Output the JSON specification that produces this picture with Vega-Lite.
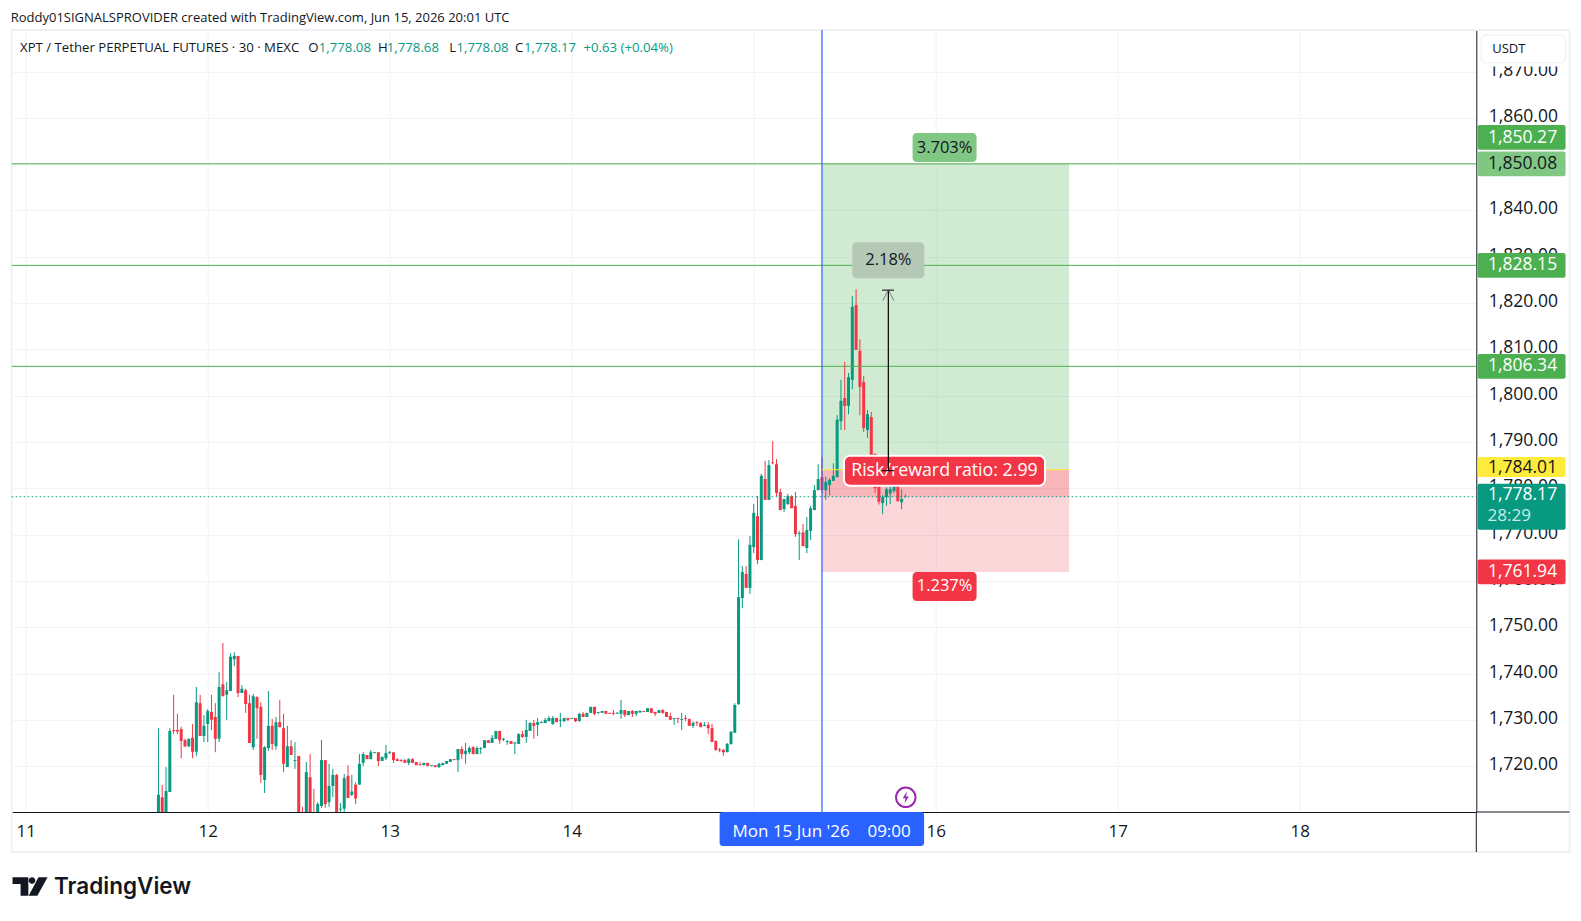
{
  "$schema": "https://vega.github.io/schema/vega-lite/v6.json",
  "description": "XPT / Tether perpetual futures, 30 minute candles with a long position drawn from 15 Jun 09:00.",
  "autosize": {"type": "none"},
  "padding": {"left": 11.7, "top": 30, "right": 104.7, "bottom": 109},
  "width": 1464.6,
  "height": 782,
  "background": "#ffffff",
  "title": {
    "text": "Roddy01SIGNALSPROVIDER created with TradingView.com, Jun 15, 2026 20:01 UTC",
    "anchor": "start",
    "frame": "group",
    "offset": 4,
    "fontSize": 13,
    "fontWeight": "normal",
    "font": "Open Sans",
    "color": "#131722",
    "dx": -1
  },
  "config": {"view": {"stroke": null}, "text": {"font": "Open Sans"}},
  "datasets": {
    "candles": [
      {"t":"2026-06-11T17:30Z","o":1708,"h":1728.2,"l":1705,"c":1713.8},
      {"t":"2026-06-11T18:00Z","o":1713.3,"h":1715.9,"l":1705,"c":1706},
      {"t":"2026-06-11T18:30Z","o":1707,"h":1719.8,"l":1705,"c":1714.6},
      {"t":"2026-06-11T19:00Z","o":1714.4,"h":1728.2,"l":1714.4,"c":1727.6},
      {"t":"2026-06-11T19:30Z","o":1727.8,"h":1735.4,"l":1726.9,"c":1727.6},
      {"t":"2026-06-11T20:00Z","o":1727.8,"h":1731.3,"l":1726.9,"c":1727.5},
      {"t":"2026-06-11T20:30Z","o":1728,"h":1728.5,"l":1721.7,"c":1725.4},
      {"t":"2026-06-11T21:00Z","o":1725.6,"h":1725.9,"l":1724.1,"c":1724.3},
      {"t":"2026-06-11T21:30Z","o":1724.3,"h":1725.9,"l":1724.1,"c":1725.9},
      {"t":"2026-06-11T22:00Z","o":1726.1,"h":1729.1,"l":1721.7,"c":1723.1},
      {"t":"2026-06-11T22:30Z","o":1723.1,"h":1737.1,"l":1722.2,"c":1733.8},
      {"t":"2026-06-11T23:00Z","o":1733.6,"h":1735.4,"l":1726.5,"c":1726.5},
      {"t":"2026-06-11T23:30Z","o":1726.5,"h":1731,"l":1725.2,"c":1728.7},
      {"t":"2026-06-12T00:00Z","o":1729.1,"h":1732.3,"l":1725.2,"c":1731.9},
      {"t":"2026-06-12T00:30Z","o":1731.7,"h":1735.4,"l":1727.8,"c":1730},
      {"t":"2026-06-12T01:00Z","o":1730.6,"h":1733.6,"l":1723,"c":1725.9},
      {"t":"2026-06-12T01:30Z","o":1725.9,"h":1740.3,"l":1725.2,"c":1737.1},
      {"t":"2026-06-12T02:00Z","o":1737.7,"h":1746.6,"l":1735.1,"c":1735.1},
      {"t":"2026-06-12T02:30Z","o":1735.4,"h":1738.2,"l":1730,"c":1736.4},
      {"t":"2026-06-12T03:00Z","o":1736.2,"h":1744.4,"l":1736.2,"c":1743.6},
      {"t":"2026-06-12T03:30Z","o":1743.1,"h":1744.6,"l":1741.6,"c":1743.8},
      {"t":"2026-06-12T04:00Z","o":1743.8,"h":1743.8,"l":1734.9,"c":1735.8},
      {"t":"2026-06-12T04:30Z","o":1735.8,"h":1737.5,"l":1735.8,"c":1736.7},
      {"t":"2026-06-12T05:00Z","o":1736.4,"h":1736.7,"l":1731.5,"c":1733.4},
      {"t":"2026-06-12T05:30Z","o":1733.6,"h":1735.4,"l":1725,"c":1725},
      {"t":"2026-06-12T06:00Z","o":1724.1,"h":1735.6,"l":1723.5,"c":1735.1},
      {"t":"2026-06-12T06:30Z","o":1734.9,"h":1735.1,"l":1725.9,"c":1732.5},
      {"t":"2026-06-12T07:00Z","o":1732.8,"h":1733.8,"l":1716.4,"c":1718.1},
      {"t":"2026-06-12T07:30Z","o":1717,"h":1724.3,"l":1714.2,"c":1724.1},
      {"t":"2026-06-12T08:00Z","o":1723.9,"h":1736.2,"l":1723.3,"c":1728.7},
      {"t":"2026-06-12T08:30Z","o":1728.7,"h":1730.2,"l":1723.5,"c":1724.8},
      {"t":"2026-06-12T09:00Z","o":1724.3,"h":1730.6,"l":1723.5,"c":1729.5},
      {"t":"2026-06-12T09:30Z","o":1729.5,"h":1734.3,"l":1728.4,"c":1728.4},
      {"t":"2026-06-12T10:00Z","o":1728.2,"h":1731.3,"l":1718.7,"c":1720.5},
      {"t":"2026-06-12T10:30Z","o":1719.8,"h":1728.7,"l":1719.8,"c":1724.3},
      {"t":"2026-06-12T11:00Z","o":1724.3,"h":1725.6,"l":1722.4,"c":1722.4},
      {"t":"2026-06-12T11:30Z","o":1721.1,"h":1725.2,"l":1719.4,"c":1721.3},
      {"t":"2026-06-12T12:00Z","o":1722.2,"h":1722.2,"l":1707,"c":1708},
      {"t":"2026-06-12T12:30Z","o":1708,"h":1711.2,"l":1705,"c":1706},
      {"t":"2026-06-12T13:00Z","o":1707,"h":1720.9,"l":1705,"c":1718.7},
      {"t":"2026-06-12T13:30Z","o":1717.6,"h":1722.6,"l":1705,"c":1706},
      {"t":"2026-06-12T14:00Z","o":1710,"h":1715.1,"l":1705,"c":1708},
      {"t":"2026-06-12T14:30Z","o":1708,"h":1712.2,"l":1706,"c":1711.8},
      {"t":"2026-06-12T15:00Z","o":1711.4,"h":1725.6,"l":1711,"c":1721.3},
      {"t":"2026-06-12T15:30Z","o":1721.3,"h":1721.3,"l":1711,"c":1711.8},
      {"t":"2026-06-12T16:00Z","o":1712.2,"h":1720.5,"l":1711.2,"c":1715.7},
      {"t":"2026-06-12T16:30Z","o":1715.7,"h":1719.4,"l":1713.3,"c":1718.1},
      {"t":"2026-06-12T17:00Z","o":1718.1,"h":1718.3,"l":1708,"c":1709},
      {"t":"2026-06-12T17:30Z","o":1710.6,"h":1712,"l":1709,"c":1710.8},
      {"t":"2026-06-12T18:00Z","o":1710.8,"h":1718.3,"l":1710,"c":1717.4},
      {"t":"2026-06-12T18:30Z","o":1717.9,"h":1720.2,"l":1713.1,"c":1713.1},
      {"t":"2026-06-12T19:00Z","o":1713.8,"h":1718.1,"l":1713.5,"c":1714.5},
      {"t":"2026-06-12T19:30Z","o":1716,"h":1716.5,"l":1711.8,"c":1713},
      {"t":"2026-06-12T20:00Z","o":1716,"h":1722.6,"l":1716,"c":1720.5},
      {"t":"2026-06-12T20:30Z","o":1720.7,"h":1723,"l":1720,"c":1722.6},
      {"t":"2026-06-12T21:00Z","o":1722.4,"h":1722.4,"l":1721.5,"c":1721.5},
      {"t":"2026-06-12T21:30Z","o":1721.5,"h":1723.5,"l":1721.5,"c":1723},
      {"t":"2026-06-12T22:00Z","o":1722.8,"h":1723,"l":1722.8,"c":1723},
      {"t":"2026-06-12T22:30Z","o":1723,"h":1723,"l":1720,"c":1721.1},
      {"t":"2026-06-12T23:00Z","o":1721.1,"h":1722,"l":1721.1,"c":1722},
      {"t":"2026-06-12T23:30Z","o":1721.7,"h":1724.6,"l":1721.3,"c":1722.8},
      {"t":"2026-06-13T00:00Z","o":1722.8,"h":1723.3,"l":1722.6,"c":1723},
      {"t":"2026-06-13T00:30Z","o":1723,"h":1723,"l":1720.7,"c":1721.3},
      {"t":"2026-06-13T01:00Z","o":1721.5,"h":1721.7,"l":1721.1,"c":1721.1},
      {"t":"2026-06-13T01:30Z","o":1721.3,"h":1721.5,"l":1720.9,"c":1721.1},
      {"t":"2026-06-13T02:00Z","o":1721.3,"h":1721.5,"l":1720.7,"c":1720.7},
      {"t":"2026-06-13T02:30Z","o":1720.7,"h":1721.7,"l":1720.2,"c":1721.5},
      {"t":"2026-06-13T03:00Z","o":1721.5,"h":1721.7,"l":1720.7,"c":1720.7},
      {"t":"2026-06-13T03:30Z","o":1720.9,"h":1720.9,"l":1720.2,"c":1720.2},
      {"t":"2026-06-13T04:00Z","o":1720.4,"h":1720.9,"l":1720.2,"c":1720.2},
      {"t":"2026-06-13T04:30Z","o":1720.2,"h":1720.7,"l":1720.2,"c":1720.7},
      {"t":"2026-06-13T05:00Z","o":1720.7,"h":1720.7,"l":1720,"c":1720},
      {"t":"2026-06-13T05:30Z","o":1720,"h":1720.2,"l":1720,"c":1720.2},
      {"t":"2026-06-13T06:00Z","o":1720.2,"h":1720.2,"l":1719.8,"c":1719.8},
      {"t":"2026-06-13T06:30Z","o":1719.8,"h":1720.7,"l":1719.6,"c":1720.5},
      {"t":"2026-06-13T07:00Z","o":1720.2,"h":1720.7,"l":1720.2,"c":1720.7},
      {"t":"2026-06-13T07:30Z","o":1720.5,"h":1721.1,"l":1720.5,"c":1721.1},
      {"t":"2026-06-13T08:00Z","o":1720.9,"h":1721.5,"l":1720.9,"c":1721.5},
      {"t":"2026-06-13T08:30Z","o":1721.5,"h":1721.5,"l":1721.3,"c":1721.3},
      {"t":"2026-06-13T09:00Z","o":1721.3,"h":1723.7,"l":1718.7,"c":1723.7},
      {"t":"2026-06-13T09:30Z","o":1723.7,"h":1724.3,"l":1721.5,"c":1722.6},
      {"t":"2026-06-13T10:00Z","o":1722.6,"h":1725,"l":1720.5,"c":1723.3},
      {"t":"2026-06-13T10:30Z","o":1723,"h":1724.3,"l":1722.6,"c":1723.9},
      {"t":"2026-06-13T11:00Z","o":1724.1,"h":1724.3,"l":1722.6,"c":1722.6},
      {"t":"2026-06-13T11:30Z","o":1722.6,"h":1724.3,"l":1722.6,"c":1723.9},
      {"t":"2026-06-13T12:00Z","o":1723.7,"h":1724.1,"l":1722.6,"c":1723.9},
      {"t":"2026-06-13T12:30Z","o":1723.9,"h":1725.6,"l":1723.9,"c":1725.6},
      {"t":"2026-06-13T13:00Z","o":1725.6,"h":1725.6,"l":1725,"c":1725},
      {"t":"2026-06-13T13:30Z","o":1725,"h":1726.7,"l":1725,"c":1726.1},
      {"t":"2026-06-13T14:00Z","o":1725.9,"h":1727.6,"l":1725.9,"c":1727.6},
      {"t":"2026-06-13T14:30Z","o":1727.6,"h":1727.6,"l":1724.8,"c":1725.6},
      {"t":"2026-06-13T15:00Z","o":1725.7,"h":1726.1,"l":1725.4,"c":1725.9},
      {"t":"2026-06-13T15:30Z","o":1725.2,"h":1725.6,"l":1724.6,"c":1725.4},
      {"t":"2026-06-13T16:00Z","o":1725.4,"h":1725.4,"l":1724.8,"c":1724.8},
      {"t":"2026-06-13T16:30Z","o":1724.9,"h":1725.2,"l":1722.6,"c":1725.1},
      {"t":"2026-06-13T17:00Z","o":1724.8,"h":1727.1,"l":1724.8,"c":1726.9},
      {"t":"2026-06-13T17:30Z","o":1726.9,"h":1727.6,"l":1726.1,"c":1726.3},
      {"t":"2026-06-13T18:00Z","o":1726.3,"h":1730,"l":1725,"c":1727.8},
      {"t":"2026-06-13T18:30Z","o":1727.6,"h":1729.5,"l":1727.6,"c":1729.3},
      {"t":"2026-06-13T19:00Z","o":1729.3,"h":1730,"l":1725.9,"c":1728.7},
      {"t":"2026-06-13T19:30Z","o":1728.9,"h":1730.4,"l":1726.5,"c":1729.5},
      {"t":"2026-06-13T20:00Z","o":1729.3,"h":1729.7,"l":1729.3,"c":1729.5},
      {"t":"2026-06-13T20:30Z","o":1729.3,"h":1730.4,"l":1729.3,"c":1730},
      {"t":"2026-06-13T21:00Z","o":1729.7,"h":1730.8,"l":1729.7,"c":1730.4},
      {"t":"2026-06-13T21:30Z","o":1729.1,"h":1730.8,"l":1728.9,"c":1730.4},
      {"t":"2026-06-13T22:00Z","o":1730.4,"h":1730.4,"l":1729.5,"c":1729.5},
      {"t":"2026-06-13T22:30Z","o":1729.8,"h":1731.5,"l":1728.4,"c":1730},
      {"t":"2026-06-13T23:00Z","o":1729.7,"h":1730.4,"l":1729.5,"c":1730.4},
      {"t":"2026-06-13T23:30Z","o":1730.4,"h":1730.4,"l":1729.7,"c":1730},
      {"t":"2026-06-14T00:00Z","o":1730.2,"h":1730.4,"l":1730.2,"c":1730.4},
      {"t":"2026-06-14T00:30Z","o":1730.4,"h":1730.4,"l":1729.5,"c":1729.7},
      {"t":"2026-06-14T01:00Z","o":1729.7,"h":1731.5,"l":1729.7,"c":1731.3},
      {"t":"2026-06-14T01:30Z","o":1731.3,"h":1731.7,"l":1730.6,"c":1730.6},
      {"t":"2026-06-14T02:00Z","o":1730.6,"h":1731.5,"l":1730.6,"c":1731.5},
      {"t":"2026-06-14T02:30Z","o":1731.5,"h":1732.8,"l":1731.5,"c":1732.8},
      {"t":"2026-06-14T03:00Z","o":1732.8,"h":1732.8,"l":1731,"c":1731.3},
      {"t":"2026-06-14T03:30Z","o":1731.5,"h":1731.7,"l":1731.3,"c":1731.7},
      {"t":"2026-06-14T04:00Z","o":1731.5,"h":1731.9,"l":1731.5,"c":1731.9},
      {"t":"2026-06-14T04:30Z","o":1731.9,"h":1731.9,"l":1731.3,"c":1731.3},
      {"t":"2026-06-14T05:00Z","o":1731.5,"h":1731.5,"l":1731.3,"c":1731.3},
      {"t":"2026-06-14T05:30Z","o":1731.5,"h":1732.1,"l":1731,"c":1731.3},
      {"t":"2026-06-14T06:00Z","o":1731.3,"h":1731.7,"l":1731.3,"c":1731.5},
      {"t":"2026-06-14T06:30Z","o":1731.3,"h":1734.3,"l":1730.2,"c":1732.1},
      {"t":"2026-06-14T07:00Z","o":1732.1,"h":1732.1,"l":1730.6,"c":1731},
      {"t":"2026-06-14T07:30Z","o":1731,"h":1731.9,"l":1731,"c":1731.9},
      {"t":"2026-06-14T08:00Z","o":1731.9,"h":1732.1,"l":1730.6,"c":1731.3},
      {"t":"2026-06-14T08:30Z","o":1731.3,"h":1731.9,"l":1730.8,"c":1731.9},
      {"t":"2026-06-14T09:00Z","o":1731.6,"h":1732.1,"l":1731.5,"c":1731.9},
      {"t":"2026-06-14T09:30Z","o":1731.9,"h":1731.9,"l":1731.7,"c":1731.7},
      {"t":"2026-06-14T10:00Z","o":1731.7,"h":1732.5,"l":1731.7,"c":1732.5},
      {"t":"2026-06-14T10:30Z","o":1732.5,"h":1732.5,"l":1731.5,"c":1731.5},
      {"t":"2026-06-14T11:00Z","o":1731.7,"h":1731.7,"l":1730.8,"c":1731.3},
      {"t":"2026-06-14T11:30Z","o":1731.5,"h":1732.1,"l":1731.5,"c":1732.1},
      {"t":"2026-06-14T12:00Z","o":1732.1,"h":1732.3,"l":1731.3,"c":1731.5},
      {"t":"2026-06-14T12:30Z","o":1731.7,"h":1731.7,"l":1730.6,"c":1730.6},
      {"t":"2026-06-14T13:00Z","o":1730.8,"h":1731.5,"l":1730,"c":1730},
      {"t":"2026-06-14T13:30Z","o":1730.2,"h":1730.4,"l":1728.9,"c":1730.4},
      {"t":"2026-06-14T14:00Z","o":1730.4,"h":1730.4,"l":1729.3,"c":1730.2},
      {"t":"2026-06-14T14:30Z","o":1730,"h":1731.5,"l":1727.8,"c":1730.2},
      {"t":"2026-06-14T15:00Z","o":1730.4,"h":1731,"l":1729.7,"c":1730.2},
      {"t":"2026-06-14T15:30Z","o":1730.2,"h":1730.2,"l":1728.7,"c":1728.7},
      {"t":"2026-06-14T16:00Z","o":1728.7,"h":1729.7,"l":1728.2,"c":1729.3},
      {"t":"2026-06-14T16:30Z","o":1729.5,"h":1729.7,"l":1728.7,"c":1729.3},
      {"t":"2026-06-14T17:00Z","o":1729.3,"h":1729.5,"l":1728.4,"c":1728.4},
      {"t":"2026-06-14T17:30Z","o":1728.7,"h":1729.5,"l":1728.6,"c":1728.9},
      {"t":"2026-06-14T18:00Z","o":1728.9,"h":1729.5,"l":1726.9,"c":1728.2},
      {"t":"2026-06-14T18:30Z","o":1728.2,"h":1729.1,"l":1725.2,"c":1725.2},
      {"t":"2026-06-14T19:00Z","o":1725.4,"h":1725.6,"l":1723.3,"c":1723.5},
      {"t":"2026-06-14T19:30Z","o":1723.6,"h":1723.9,"l":1723,"c":1723.4},
      {"t":"2026-06-14T20:00Z","o":1723.5,"h":1723.7,"l":1722.2,"c":1723},
      {"t":"2026-06-14T20:30Z","o":1723,"h":1725,"l":1723,"c":1724.8},
      {"t":"2026-06-14T21:00Z","o":1724.8,"h":1727.6,"l":1724.6,"c":1727.4},
      {"t":"2026-06-14T21:30Z","o":1727.2,"h":1733.6,"l":1727.2,"c":1733.2},
      {"t":"2026-06-14T22:00Z","o":1733.4,"h":1769,"l":1733.2,"c":1756.5},
      {"t":"2026-06-14T22:30Z","o":1756.3,"h":1763.2,"l":1754.1,"c":1761.9},
      {"t":"2026-06-14T23:00Z","o":1761.5,"h":1763.2,"l":1758.5,"c":1758.5},
      {"t":"2026-06-14T23:30Z","o":1758.5,"h":1769.7,"l":1757.2,"c":1767.8},
      {"t":"2026-06-15T00:00Z","o":1767.3,"h":1776.6,"l":1766,"c":1774.7},
      {"t":"2026-06-15T00:30Z","o":1774,"h":1778.3,"l":1763.6,"c":1764.5},
      {"t":"2026-06-15T01:00Z","o":1764.5,"h":1783.1,"l":1764.5,"c":1782.7},
      {"t":"2026-06-15T01:30Z","o":1782,"h":1785.9,"l":1777.5,"c":1777.5},
      {"t":"2026-06-15T02:00Z","o":1777.5,"h":1786.1,"l":1777.5,"c":1785},
      {"t":"2026-06-15T02:30Z","o":1785.6,"h":1790.2,"l":1785.2,"c":1785.4},
      {"t":"2026-06-15T03:00Z","o":1785.2,"h":1786.3,"l":1778.3,"c":1779},
      {"t":"2026-06-15T03:30Z","o":1779.2,"h":1779.9,"l":1775.3,"c":1775.3},
      {"t":"2026-06-15T04:00Z","o":1775.5,"h":1777.7,"l":1774.9,"c":1777.7},
      {"t":"2026-06-15T04:30Z","o":1776.6,"h":1778.8,"l":1776.4,"c":1778.3},
      {"t":"2026-06-15T05:00Z","o":1778.3,"h":1778.5,"l":1775.7,"c":1775.7},
      {"t":"2026-06-15T05:30Z","o":1776.2,"h":1779.2,"l":1769.5,"c":1770.1},
      {"t":"2026-06-15T06:00Z","o":1770.1,"h":1770.8,"l":1764.5,"c":1770.3},
      {"t":"2026-06-15T06:30Z","o":1770.5,"h":1772.3,"l":1767.5,"c":1767.5},
      {"t":"2026-06-15T07:00Z","o":1767.1,"h":1773.8,"l":1766,"c":1771},
      {"t":"2026-06-15T07:30Z","o":1770.8,"h":1776.2,"l":1768.8,"c":1775.7},
      {"t":"2026-06-15T08:00Z","o":1775.3,"h":1780.7,"l":1775.3,"c":1779.6},
      {"t":"2026-06-15T08:30Z","o":1779.6,"h":1785.2,"l":1779.6,"c":1782},
      {"t":"2026-06-15T09:00Z","o":1782.4,"h":1786.8,"l":1779,"c":1779.6},
      {"t":"2026-06-15T09:30Z","o":1779.6,"h":1782.5,"l":1777.5,"c":1781.4},
      {"t":"2026-06-15T10:00Z","o":1780.7,"h":1782.2,"l":1778.5,"c":1781.8},
      {"t":"2026-06-15T10:30Z","o":1781.6,"h":1785.4,"l":1781.6,"c":1782.7},
      {"t":"2026-06-15T11:00Z","o":1782.4,"h":1795.8,"l":1782.4,"c":1794.8},
      {"t":"2026-06-15T11:30Z","o":1794.5,"h":1803.4,"l":1792.6,"c":1798.9},
      {"t":"2026-06-15T12:00Z","o":1799.5,"h":1807.3,"l":1792.6,"c":1797.8},
      {"t":"2026-06-15T12:30Z","o":1797.8,"h":1804.9,"l":1796,"c":1804},
      {"t":"2026-06-15T13:00Z","o":1803.4,"h":1821.5,"l":1801.4,"c":1819.2},
      {"t":"2026-06-15T13:30Z","o":1819.6,"h":1823,"l":1809.9,"c":1809.9},
      {"t":"2026-06-15T14:00Z","o":1809.7,"h":1812.2,"l":1795.8,"c":1801.9},
      {"t":"2026-06-15T14:30Z","o":1803,"h":1804.2,"l":1792.2,"c":1793},
      {"t":"2026-06-15T15:00Z","o":1792.6,"h":1796.9,"l":1790.9,"c":1796},
      {"t":"2026-06-15T15:30Z","o":1795.4,"h":1796.5,"l":1786,"c":1787},
      {"t":"2026-06-15T16:00Z","o":1787.4,"h":1787.6,"l":1779,"c":1780},
      {"t":"2026-06-15T16:30Z","o":1780.3,"h":1781,"l":1776.5,"c":1777.1},
      {"t":"2026-06-15T17:00Z","o":1776.8,"h":1778.5,"l":1774.4,"c":1778.1},
      {"t":"2026-06-15T17:30Z","o":1778.1,"h":1780.2,"l":1776.2,"c":1779.8},
      {"t":"2026-06-15T18:00Z","o":1778.9,"h":1781.4,"l":1776.6,"c":1779.8},
      {"t":"2026-06-15T18:30Z","o":1779.4,"h":1781.8,"l":1779,"c":1781.4},
      {"t":"2026-06-15T19:00Z","o":1780.5,"h":1781,"l":1777.2,"c":1777.2},
      {"t":"2026-06-15T19:30Z","o":1777,"h":1779.8,"l":1775.5,"c":1777.7},
      {"t":"2026-06-15T20:00Z","o":1778.08,"h":1778.68,"l":1778.08,"c":1778.17}
    ],
    "tags": [
      {"t":"2026-06-19T05:15Z","price":1850.27,"label":"1,850.27","kind":"hit"},
      {"t":"2026-06-19T05:15Z","price":1850.08,"label":"1,850.08","kind":"faint"},
      {"t":"2026-06-19T05:15Z","price":1828.15,"label":"1,828.15","kind":"target"},
      {"t":"2026-06-19T05:15Z","price":1806.34,"label":"1,806.34","kind":"target"},
      {"t":"2026-06-19T05:15Z","price":1784.01,"label":"1,784.01","kind":"entry"},
      {"t":"2026-06-19T05:15Z","price":1778.17,"label":"1,778.17","kind":"last"},
      {"t":"2026-06-19T05:15Z","price":1761.94,"label":"1,761.94","kind":"stop"}
    ],
    "legendline": [
      {"t":"2026-06-10T23:15Z","label":"XPT / Tether PERPETUAL FUTURES · 30 · MEXC","kind":"name"},
      {"t":"2026-06-12T13:15Z","label":"O","kind":"name"},
      {"t":"2026-06-12T14:39Z","label":"1,778.08","kind":"value"},
      {"t":"2026-06-12T22:27Z","label":"H","kind":"name"},
      {"t":"2026-06-12T23:37Z","label":"1,778.68","kind":"value"},
      {"t":"2026-06-13T07:50Z","label":"L","kind":"name"},
      {"t":"2026-06-13T08:48Z","label":"1,778.08","kind":"value"},
      {"t":"2026-06-13T16:32Z","label":"C","kind":"name"},
      {"t":"2026-06-13T17:42Z","label":"1,778.17","kind":"value"},
      {"t":"2026-06-14T01:33Z","label":"+0.63 (+0.04%)","kind":"value"}
    ],
    "badges": [
      {"t":"2026-06-16T01:10Z","price":1853.6,"label":"3.703%","kind":"faint"},
      {"t":"2026-06-16T01:10Z","price":1758.8,"label":"1.237%","kind":"stop"}
    ]
  },
  "encoding": {
    "x": {
      "field": "t",
      "type": "temporal",
      "title": null,
      "scale": {"type": "utc", "domain": ["2026-06-10T22:09Z", "2026-06-18T23:17Z"]},
      "axis": {
        "orient": "bottom",
        "format": "%-d",
        "tickCount": {"interval": "day", "step": 1},
        "ticks": false,
        "domainColor": "#131722",
        "gridColor": "#f2f3f5",
        "grid": true,
        "labelFont": "Open Sans",
        "labelFontSize": 17,
        "labelColor": "#131722",
        "labelPadding": 11,
        "labelOverlap": false,
        "labelFlush": false
      }
    }
  },
  "layer": [
    {
      "data": {"values": [{"t":"2026-06-10T22:09Z","t2":"2026-06-19T11:35Z","top":1878.98,"bot":1701.45}]},
      "mark": {"type": "rect", "fill": null, "stroke": "#f0f1f4", "strokeWidth": 2},
      "encoding": {
        "x2": {"field": "t2"},
        "y": {
          "field": "top",
          "type": "quantitative",
          "title": null,
          "scale": {"domain": [1710.09, 1878.98], "nice": false, "zero": false},
          "axis": {
            "orient": "right",
            "values": [1720,1730,1740,1750,1760,1770,1780,1790,1800,1810,1820,1830,1840,1850,1860,1870],
            "format": ",.2f",
            "ticks": false,
            "domainColor": "#131722",
            "gridColor": "#f2f3f5",
            "grid": true,
            "labelFont": "Open Sans",
            "labelFontSize": 17.5,
            "labelColor": "#131722",
            "labelPadding": 12,
            "labelOffset": -1.5,
            "labelOverlap": false
          }
        },
        "y2": {"field": "bot"}
      }
    },
    {
      "data": {"values": [{"t":"2026-06-18T23:17Z","t2":"2026-06-19T11:35Z","price":1710.09}]},
      "mark": {"type": "rule", "color": "#131722", "strokeWidth": 1},
      "encoding": {"x2": {"field": "t2"}, "y": {"field": "price", "type": "quantitative"}}
    },
    {
      "data": {"values": [{"t":"2026-06-18T23:17Z","top":1710.09,"bot":1701.45}]},
      "mark": {"type": "rule", "color": "#131722", "strokeWidth": 1},
      "encoding": {"y": {"field": "top", "type": "quantitative"}, "y2": {"field": "bot"}}
    },
    {
      "data": {"values": [
        {"t":"2026-06-15T09:00Z","t2":"2026-06-16T17:35Z","top":1850.08,"bot":1784.01,"kind":"target"},
        {"t":"2026-06-15T09:00Z","t2":"2026-06-16T17:35Z","top":1784.01,"bot":1761.94,"kind":"stop"},
        {"t":"2026-06-15T09:00Z","t2":"2026-06-16T17:35Z","top":1784.01,"bot":1778.17,"kind":"stop"}
      ]},
      "mark": {"type": "rect"},
      "encoding": {
        "x2": {"field": "t2"},
        "y": {"field": "top", "type": "quantitative"},
        "y2": {"field": "bot"},
        "opacity": {"condition": {"test": "datum.kind === 'target'", "value": 0.26}, "value": 0.2},
        "color": {
          "field": "kind",
          "type": "nominal",
          "legend": null,
          "scale": {
            "domain": ["target", "hit", "faint", "entry", "last", "stop"],
            "range": ["#4caf50", "#4caf50", "#81c784", "#ffeb3b", "#089981", "#f23645"]
          }
        }
      }
    },
    {
      "data": {"name": "candles"},
      "mark": {"type": "rule", "strokeWidth": 1, "clip": true},
      "encoding": {
        "y": {"field": "l", "type": "quantitative"},
        "y2": {"field": "h"},
        "color": {"condition": {"test": "datum.c >= datum.o", "value": "#089981"}, "value": "#f23645"}
      }
    },
    {
      "data": {"name": "candles"},
      "mark": {"type": "rule", "strokeWidth": 3, "clip": true},
      "encoding": {
        "y": {"field": "o", "type": "quantitative"},
        "y2": {"field": "c"},
        "color": {"condition": {"test": "datum.c >= datum.o", "value": "#089981"}, "value": "#f23645"}
      }
    },
    {
      "data": {"values": [{"price":1850.08},{"price":1828.15},{"price":1806.34}]},
      "mark": {"type": "rule", "color": "#4caf50", "strokeWidth": 1},
      "encoding": {"x": {"value": 0}, "x2": {"value": 1464.6}, "y": {"field": "price", "type": "quantitative"}}
    },
    {
      "data": {"values": [{"price":1778.17}]},
      "mark": {"type": "rule", "color": "#089981", "strokeWidth": 1.2, "strokeDash": [1.5, 2.5]},
      "encoding": {"x": {"value": 0}, "x2": {"value": 1464.6}, "y": {"field": "price", "type": "quantitative"}}
    },
    {
      "data": {"values": [{"t":"2026-06-15T09:00Z"}]},
      "mark": {"type": "rule", "color": "#2962ff", "strokeWidth": 1.2},
      "encoding": {}
    },
    {
      "data": {"values": [{"t":"2026-06-15T09:00Z","t2":"2026-06-16T17:35Z","price":1784.01}]},
      "mark": {"type": "rule", "color": "#ffeb3b", "strokeWidth": 1},
      "encoding": {"x2": {"field": "t2"}, "y": {"field": "price", "type": "quantitative"}}
    },
    {
      "data": {"values": [{"t":"2026-06-15T17:45Z","price":1829.26,"label":"2.18%"}]},
      "layer": [
        {
          "mark": {"type": "rect", "width": 72, "height": 36, "cornerRadius": 4, "fill": "#b5c8b6"},
          "encoding": {"y": {"field": "price", "type": "quantitative"}}
        },
        {
          "mark": {"type": "text", "fontSize": 16.5, "color": "#131722"},
          "encoding": {"y": {"field": "price", "type": "quantitative"}, "text": {"field": "label"}}
        }
      ]
    },
    {
      "data": {"name": "badges"},
      "layer": [
        {
          "mark": {"type": "rect", "width": 64, "height": 29, "cornerRadius": 4},
          "encoding": {
            "y": {"field": "price", "type": "quantitative"},
            "color": {"field": "kind", "type": "nominal", "legend": null}
          }
        },
        {
          "mark": {"type": "text", "fontSize": 16.5},
          "encoding": {
            "y": {"field": "price", "type": "quantitative"},
            "text": {"field": "label"},
            "color": {"condition": {"test": "datum.kind === 'faint'", "value": "#131722"}, "value": "#ffffff"}
          }
        }
      ]
    },
    {
      "data": {"values": [{"t":"2026-06-16T01:09Z","price":1783.8,"label":"Risk/reward ratio: 2.99"}]},
      "layer": [
        {
          "mark": {"type": "rect", "width": 201, "height": 30, "cornerRadius": 6, "fill": "#f23645", "stroke": "#ffffff", "strokeWidth": 2},
          "encoding": {"y": {"field": "price", "type": "quantitative"}}
        },
        {
          "mark": {"type": "text", "fontSize": 17.8, "color": "#ffffff"},
          "encoding": {"y": {"field": "price", "type": "quantitative"}, "text": {"field": "label"}}
        }
      ]
    },
    {
      "data": {"values": [{"t":"2026-06-15T17:45Z","top":1822.8,"bot":1783.8}]},
      "mark": {"type": "rule", "color": "#000000", "strokeWidth": 1.2},
      "encoding": {"y": {"field": "top", "type": "quantitative"}, "y2": {"field": "bot"}}
    },
    {
      "data": {"values": [
        {"t":"2026-06-15T16:55Z","t2":"2026-06-15T18:30Z","price":1822.8},
        {"t":"2026-06-15T16:55Z","t2":"2026-06-15T18:30Z","price":1783.8}
      ]},
      "mark": {"type": "rule", "color": "#000000", "strokeWidth": 1},
      "encoding": {"x2": {"field": "t2"}, "y": {"field": "price", "type": "quantitative"}}
    },
    {
      "data": {"values": [{"t":"2026-06-15T17:45Z","price":1821.7}]},
      "mark": {"type": "point", "shape": "M-1,1 L0,-1 L1,1", "size": 120, "filled": false, "stroke": "#50535e", "strokeWidth": 1},
      "encoding": {"y": {"field": "price", "type": "quantitative"}}
    },
    {
      "data": {"name": "tags"},
      "transform": [{"filter": "datum.kind === 'target' || datum.kind === 'faint' || datum.kind === 'stop'"}],
      "layer": [
        {
          "mark": {"type": "rect", "width": 88, "height": 24.7, "cornerRadius": 2},
          "encoding": {"y": {"field": "price", "type": "quantitative"}, "color": {"field": "kind", "type": "nominal", "legend": null}}
        },
        {
          "mark": {"type": "text", "fontSize": 17.5, "dx": 1},
          "encoding": {
            "y": {"field": "price", "type": "quantitative"},
            "text": {"field": "label"},
            "color": {"condition": {"test": "datum.kind === 'faint'", "value": "#131722"}, "value": "#ffffff"}
          }
        }
      ]
    },
    {
      "data": {"name": "tags"},
      "transform": [{"filter": "datum.kind === 'hit'"}],
      "layer": [
        {
          "mark": {"type": "rect", "width": 88, "height": 24.7, "cornerRadius": 2, "yOffset": -25.6},
          "encoding": {"y": {"field": "price", "type": "quantitative"}, "color": {"field": "kind", "type": "nominal", "legend": null}}
        },
        {
          "mark": {"type": "text", "fontSize": 17.5, "dx": 1, "dy": -25, "color": "#ffffff"},
          "encoding": {"y": {"field": "price", "type": "quantitative"}, "text": {"field": "label"}}
        }
      ]
    },
    {
      "data": {"name": "tags"},
      "transform": [{"filter": "datum.kind === 'entry'"}],
      "layer": [
        {
          "mark": {"type": "rect", "width": 88, "height": 20, "cornerRadius": 2, "yOffset": -2.7},
          "encoding": {"y": {"field": "price", "type": "quantitative"}, "color": {"field": "kind", "type": "nominal", "legend": null}}
        },
        {
          "mark": {"type": "text", "fontSize": 17.5, "dx": 1, "dy": -1.7, "color": "#131722"},
          "encoding": {"y": {"field": "price", "type": "quantitative"}, "text": {"field": "label"}}
        }
      ]
    },
    {
      "data": {"name": "tags"},
      "transform": [{"filter": "datum.kind === 'last'"}],
      "layer": [
        {
          "mark": {"type": "rect", "width": 88, "height": 46, "cornerRadius": 2, "yOffset": 10},
          "encoding": {"y": {"field": "price", "type": "quantitative"}, "color": {"field": "kind", "type": "nominal", "legend": null}}
        },
        {
          "mark": {"type": "text", "fontSize": 17.5, "dx": 1, "dy": -1.8, "color": "#ffffff"},
          "encoding": {"y": {"field": "price", "type": "quantitative"}, "text": {"field": "label"}}
        },
        {
          "mark": {"type": "text", "fontSize": 17, "dx": -34, "dy": 18.9, "align": "left", "color": "#cdeae4", "text": "28:29"},
          "encoding": {"y": {"field": "price", "type": "quantitative"}}
        }
      ]
    },
    {
      "data": {"values": [{"t":"2026-06-18T23:56Z","t2":"2026-06-19T11:02Z","top":1877.9,"bot":1871.1}]},
      "mark": {"type": "rect", "fill": "#ffffff"},
      "encoding": {"x2": {"field": "t2"}, "y": {"field": "top", "type": "quantitative"}, "y2": {"field": "bot"}}
    },
    {
      "data": {"values": [{"t":"2026-06-18T23:56Z","t2":"2026-06-19T11:02Z","top":1877.9,"bot":1871.9,"label":"USDT"}]},
      "layer": [
        {
          "mark": {"type": "rect", "fill": "#ffffff", "stroke": "#eceef2", "cornerRadius": 5},
          "encoding": {"x2": {"field": "t2"}, "y": {"field": "top", "type": "quantitative"}, "y2": {"field": "bot"}}
        },
        {
          "mark": {"type": "text", "fontSize": 13, "align": "left", "dx": 11, "dy": 14, "color": "#131722"},
          "encoding": {"y": {"field": "top", "type": "quantitative"}, "text": {"field": "label"}}
        }
      ]
    },
    {
      "data": {"name": "legendline"},
      "mark": {"type": "text", "fontSize": 13.2, "align": "left"},
      "encoding": {
        "y": {"datum": 1875.2, "type": "quantitative"},
        "text": {"field": "label"},
        "color": {"condition": {"test": "datum.kind === 'value'", "value": "#089981"}, "value": "#131722"}
      }
    },
    {
      "data": {"values": [{"t":"2026-06-14T19:30Z","t2":"2026-06-15T22:28Z","top":1710.09,"bot":1702.74}]},
      "mark": {"type": "rect", "fill": "#2962ff", "cornerRadius": 3},
      "encoding": {"x2": {"field": "t2"}, "y": {"field": "top", "type": "quantitative"}, "y2": {"field": "bot"}}
    },
    {
      "data": {"values": [
        {"t":"2026-06-15T04:56Z","price":1705.77,"label":"Mon 15 Jun '26"},
        {"t":"2026-06-15T17:51Z","price":1705.77,"label":"09:00"}
      ]},
      "mark": {"type": "text", "fontSize": 17, "color": "#ffffff"},
      "encoding": {"y": {"field": "price", "type": "quantitative"}, "text": {"field": "label"}}
    },
    {
      "data": {"values": [{"t":"2026-06-15T20:03Z","price":1713.26}]},
      "layer": [
        {
          "mark": {"type": "point", "shape": "circle", "size": 380, "filled": true, "fill": "#ffffff", "stroke": "#9c27b0", "strokeWidth": 2, "opacity": 1},
          "encoding": {"y": {"field": "price", "type": "quantitative"}}
        },
        {
          "mark": {"type": "point", "shape": "M0.2,-1 L-0.5,0.15 L-0.05,0.15 L-0.2,1 L0.5,-0.15 L0.05,-0.15 Z", "size": 150, "filled": true, "fill": "#9c27b0", "opacity": 1},
          "encoding": {"y": {"field": "price", "type": "quantitative"}}
        }
      ]
    },
    {
      "data": {"values": [{"t":"2026-06-11T00:34Z","price":1694}]},
      "mark": {
        "type": "point",
        "shape": "M-1,-0.53 L-0.096,-0.53 L-0.096,0.53 L-0.54,0.53 L-0.54,-0.144 L-1,-0.144 Z M0.115,-0.53 A0.19,0.19 0 1 1 0.115,-0.15 A0.19,0.19 0 1 1 0.115,-0.53 Z M0.48,-0.53 L1,-0.53 L0.42,0.53 L-0.077,0.53 Z",
        "size": 1225,
        "filled": true,
        "fill": "#131722",
        "opacity": 1
      },
      "encoding": {"y": {"field": "price", "type": "quantitative"}}
    },
    {
      "data": {"values": [{"t":"2026-06-11T03:44Z","price":1693.9,"label":"TradingView"}]},
      "mark": {"type": "text", "font": "Inter", "fontSize": 22.5, "fontWeight": 600, "align": "left", "color": "#131722"},
      "encoding": {"y": {"field": "price", "type": "quantitative"}, "text": {"field": "label"}}
    }
  ]
}
